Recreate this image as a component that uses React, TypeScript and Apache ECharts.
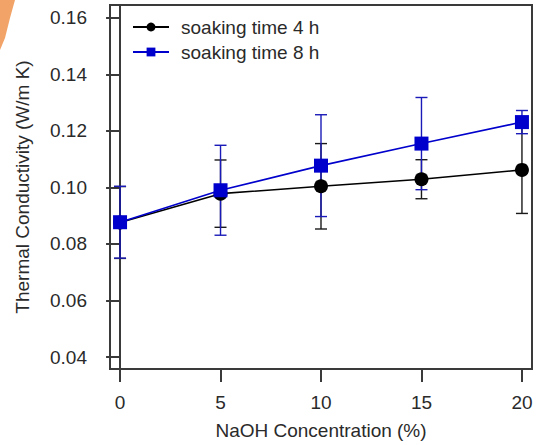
import React, { useEffect, useRef } from "react";
import * as echarts from "echarts";

const concentrations = [0, 5, 10, 15, 20];
const soak4h = [0.0876, 0.0978, 0.1004, 0.1029, 0.1062];
const err4h = [0.0127, 0.0119, 0.0151, 0.0069, 0.0154];
const soak8h = [0.0877, 0.099, 0.1077, 0.1155, 0.1231];
const err8h = [0.0127, 0.0159, 0.018, 0.0163, 0.0041];
const xTicks = [0, 5, 10, 15, 20];
const yTicks = [0.04, 0.06, 0.08, 0.1, 0.12, 0.14, 0.16];
const seriesNames = ["soaking time 4 h", "soaking time 8 h"];

const BLACK = "#000000";
const BLUE = "#0000cc";
const FONT = "Liberation Sans, Arial, sans-serif";
const TXT = "#2a2a2a";

function errData(vals: number[], errs: number[]) {
  return concentrations.map((x, i) => [x, vals[i] - errs[i], vals[i] + errs[i]]);
}

function errSeries(vals: number[], errs: number[], color: string, z: number) {
  return {
    type: "custom",
    z,
    silent: true,
    data: errData(vals, errs),
    encode: { x: 0, y: [1, 2] },
    renderItem: (_p: any, api: any) => {
      const x = api.value(0);
      const lo = api.value(1);
      const hi = api.value(2);
      const t = api.coord([x, hi]);
      const b = api.coord([x, lo]);
      const hw = 6;
      const st = { stroke: color, lineWidth: 1.4 };
      return {
        type: "group",
        children: [
          { type: "line", shape: { x1: t[0], y1: t[1], x2: b[0], y2: b[1] }, style: st },
          { type: "line", shape: { x1: t[0] - hw, y1: t[1], x2: t[0] + hw, y2: t[1] }, style: st },
          { type: "line", shape: { x1: b[0] - hw, y1: b[1], x2: b[0] + hw, y2: b[1] }, style: st },
        ],
      };
    },
  };
}

export default function App() {
  const ref = useRef<HTMLDivElement>(null);
  useEffect(() => {
    if (!ref.current) return;
    const chart = echarts.init(ref.current, undefined, { renderer: "svg" });
    chart.setOption({
      animation: false,
      backgroundColor: "#ffffff",
      grid: {
        left: 110,
        right: 4,
        top: 5,
        bottom: 72,
        show: true,
        borderColor: "#3a3a3a",
        borderWidth: 2,
        backgroundColor: "transparent",
      },
      legend: {
        left: 127,
        top: 12,
        orient: "vertical",
        itemWidth: 36,
        itemHeight: 11,
        itemGap: 5,
        data: seriesNames,
        textStyle: {
          fontFamily: FONT,
          fontSize: 19,
          color: TXT,
          lineHeight: 20,
          padding: [0, 0, 0, 7],
        },
      },
      graphic: [
        {
          type: "polygon",
          shape: { points: [[0, 0], [15, 0], [10, 18], [5, 38], [0, 50]] },
          style: { fill: "#f2a468" },
          silent: true,
        },
      ],
      xAxis: {
        type: "value",
        min: -0.5,
        max: 20.5,
        name: "NaOH Concentration (%)",
        nameLocation: "middle",
        nameGap: 52,
        nameTextStyle: { fontFamily: FONT, fontSize: 19, color: TXT },
        axisLine: { show: true, lineStyle: { color: "#3a3a3a", width: 2 } },
        axisTick: {
          show: true,
          inside: false,
          length: 13,
          customValues: xTicks,
          lineStyle: { color: "#3a3a3a", width: 2 },
        },
        axisLabel: {
          customValues: xTicks,
          margin: 24,
          fontFamily: FONT,
          fontSize: 19,
          color: TXT,
        },
        splitLine: { show: false },
      },
      yAxis: {
        type: "value",
        min: 0.0358,
        max: 0.1645,
        name: "Thermal Conductivity (W/m K)",
        nameLocation: "middle",
        nameGap: 78,
        nameTextStyle: { fontFamily: FONT, fontSize: 19, color: TXT },
        axisLine: { show: true, lineStyle: { color: "#3a3a3a", width: 2 } },
        axisTick: {
          show: true,
          inside: false,
          length: 14,
          customValues: yTicks,
          lineStyle: { color: "#3a3a3a", width: 2 },
        },
        axisLabel: {
          customValues: yTicks,
          margin: 23,
          fontFamily: FONT,
          fontSize: 19,
          color: TXT,
          formatter: (v: number) => v.toFixed(2),
        },
        splitLine: { show: false },
      },
      series: [
        errSeries(soak4h, err4h, "#1a1a1a", 1),
        errSeries(soak8h, err8h, "#1a1ab8", 1),
        {
          name: seriesNames[0],
          type: "line",
          z: 3,
          clip: false,
          data: concentrations.map((x, i) => [x, soak4h[i]]),
          symbol: "circle",
          symbolSize: 14,
          lineStyle: { color: BLACK, width: 1.6 },
          itemStyle: { color: BLACK },
        },
        {
          name: seriesNames[1],
          type: "line",
          z: 4,
          clip: false,
          data: concentrations.map((x, i) => [x, soak8h[i]]),
          symbol: "rect",
          symbolSize: 14,
          lineStyle: { color: BLUE, width: 1.6 },
          itemStyle: { color: BLUE },
        },
      ],
    });
    return () => chart.dispose();
  }, []);
  return <div ref={ref} style={{ width: 536, height: 445, position: "absolute", left: 0, top: 0 }} />;
}
